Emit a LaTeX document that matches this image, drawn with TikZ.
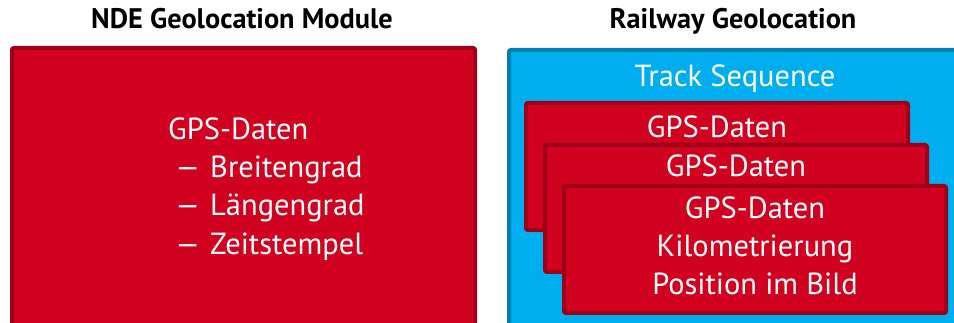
\documentclass[tikz,border=0pt]{standalone}
\usepackage{fontspec}
\setmainfont{PT Sans}
\usepackage{xcolor}
\usepackage{graphicx}
\usetikzlibrary{positioning}
\definecolor{dbred}{RGB}{208,2,32}
\definecolor{dbreddark}{RGB}{158,0,24}
\definecolor{skyblue}{RGB}{0,174,239}
\definecolor{skybluedark}{RGB}{0,128,178}
\tikzstyle{heading} = [font=\fontsize{28.3}{32}\selectfont\bfseries, text=black,
inner sep=0pt, anchor=base]
\tikzstyle{redbox} = [rectangle, rounded corners=2pt, draw=dbreddark,
line width=4pt, fill=dbred, inner sep=0pt, anchor=north west]
\tikzstyle{bluebox} = [rectangle, rounded corners=2pt, draw=skybluedark,
line width=4pt, fill=skyblue, inner sep=0pt, anchor=north west]
\tikzstyle{card} = [redbox, minimum width=382pt, minimum height=127pt]
\tikzstyle{whitetext} = [font=\fontsize{30.5}{38}\selectfont, text=white,
inner sep=0pt, anchor=base]
\newcommand{\dashitem}[1]{\makebox[42pt][l]{\hspace*{6pt}\scalebox{1.35}[1]{--}}#1}

\begin{document}
\begin{tikzpicture}[x=1pt, y=-1pt]
  \clip (0,0) rectangle (954,323);
  \fill[white] (0,0) rectangle (954,323);
  % left side
  \node [heading] (ndetitle) at (242,29) {NDE Geolocation Module};
  \node [redbox, minimum width=463pt, minimum height=320pt] (ndebox) at (10,46) {};
  \node [whitetext, anchor=base west] (ndegps) at (168,140) {GPS-Daten};
  \node [whitetext, anchor=base west] (ndelat) at ([yshift=-38pt]ndegps.base west)
    {\dashitem{Breitengrad}};
  \node [whitetext, anchor=base west] (ndelon) at ([yshift=-38pt]ndelat.base west)
    {\dashitem{Längengrad}};
  \node [whitetext, anchor=base west] (ndetime) at ([yshift=-39pt]ndelon.base west)
    {\dashitem{Zeitstempel}};
  % right side
  \node [heading] (railtitle) at (733,29) {Railway Geolocation};
  \node [bluebox, minimum width=500pt, minimum height=320pt] (railbox) at (507,48) {};
  \node [whitetext] (trackseq) at (735,87) {Track Sequence};
  \node [card] (card1) at (524,101) {};
  \node [whitetext] (gps1) at ([yshift=-37pt]card1.north) {GPS-Daten};
  \node [card] (card2) at (543,143) {};
  \node [whitetext] (gps2) at ([yshift=-34pt]card2.north) {GPS-Daten};
  \node [card] (card3) at (562,184) {};
  \node [whitetext] (gps3) at ([yshift=-35pt]card3.north) {GPS-Daten};
  \node [whitetext] (km3) at ([yshift=-38pt]gps3.base) {Kilometrierung};
  \node [whitetext] (pos3) at ([yshift=-38pt]km3.base) {Position im Bild};
\end{tikzpicture}
\end{document}
